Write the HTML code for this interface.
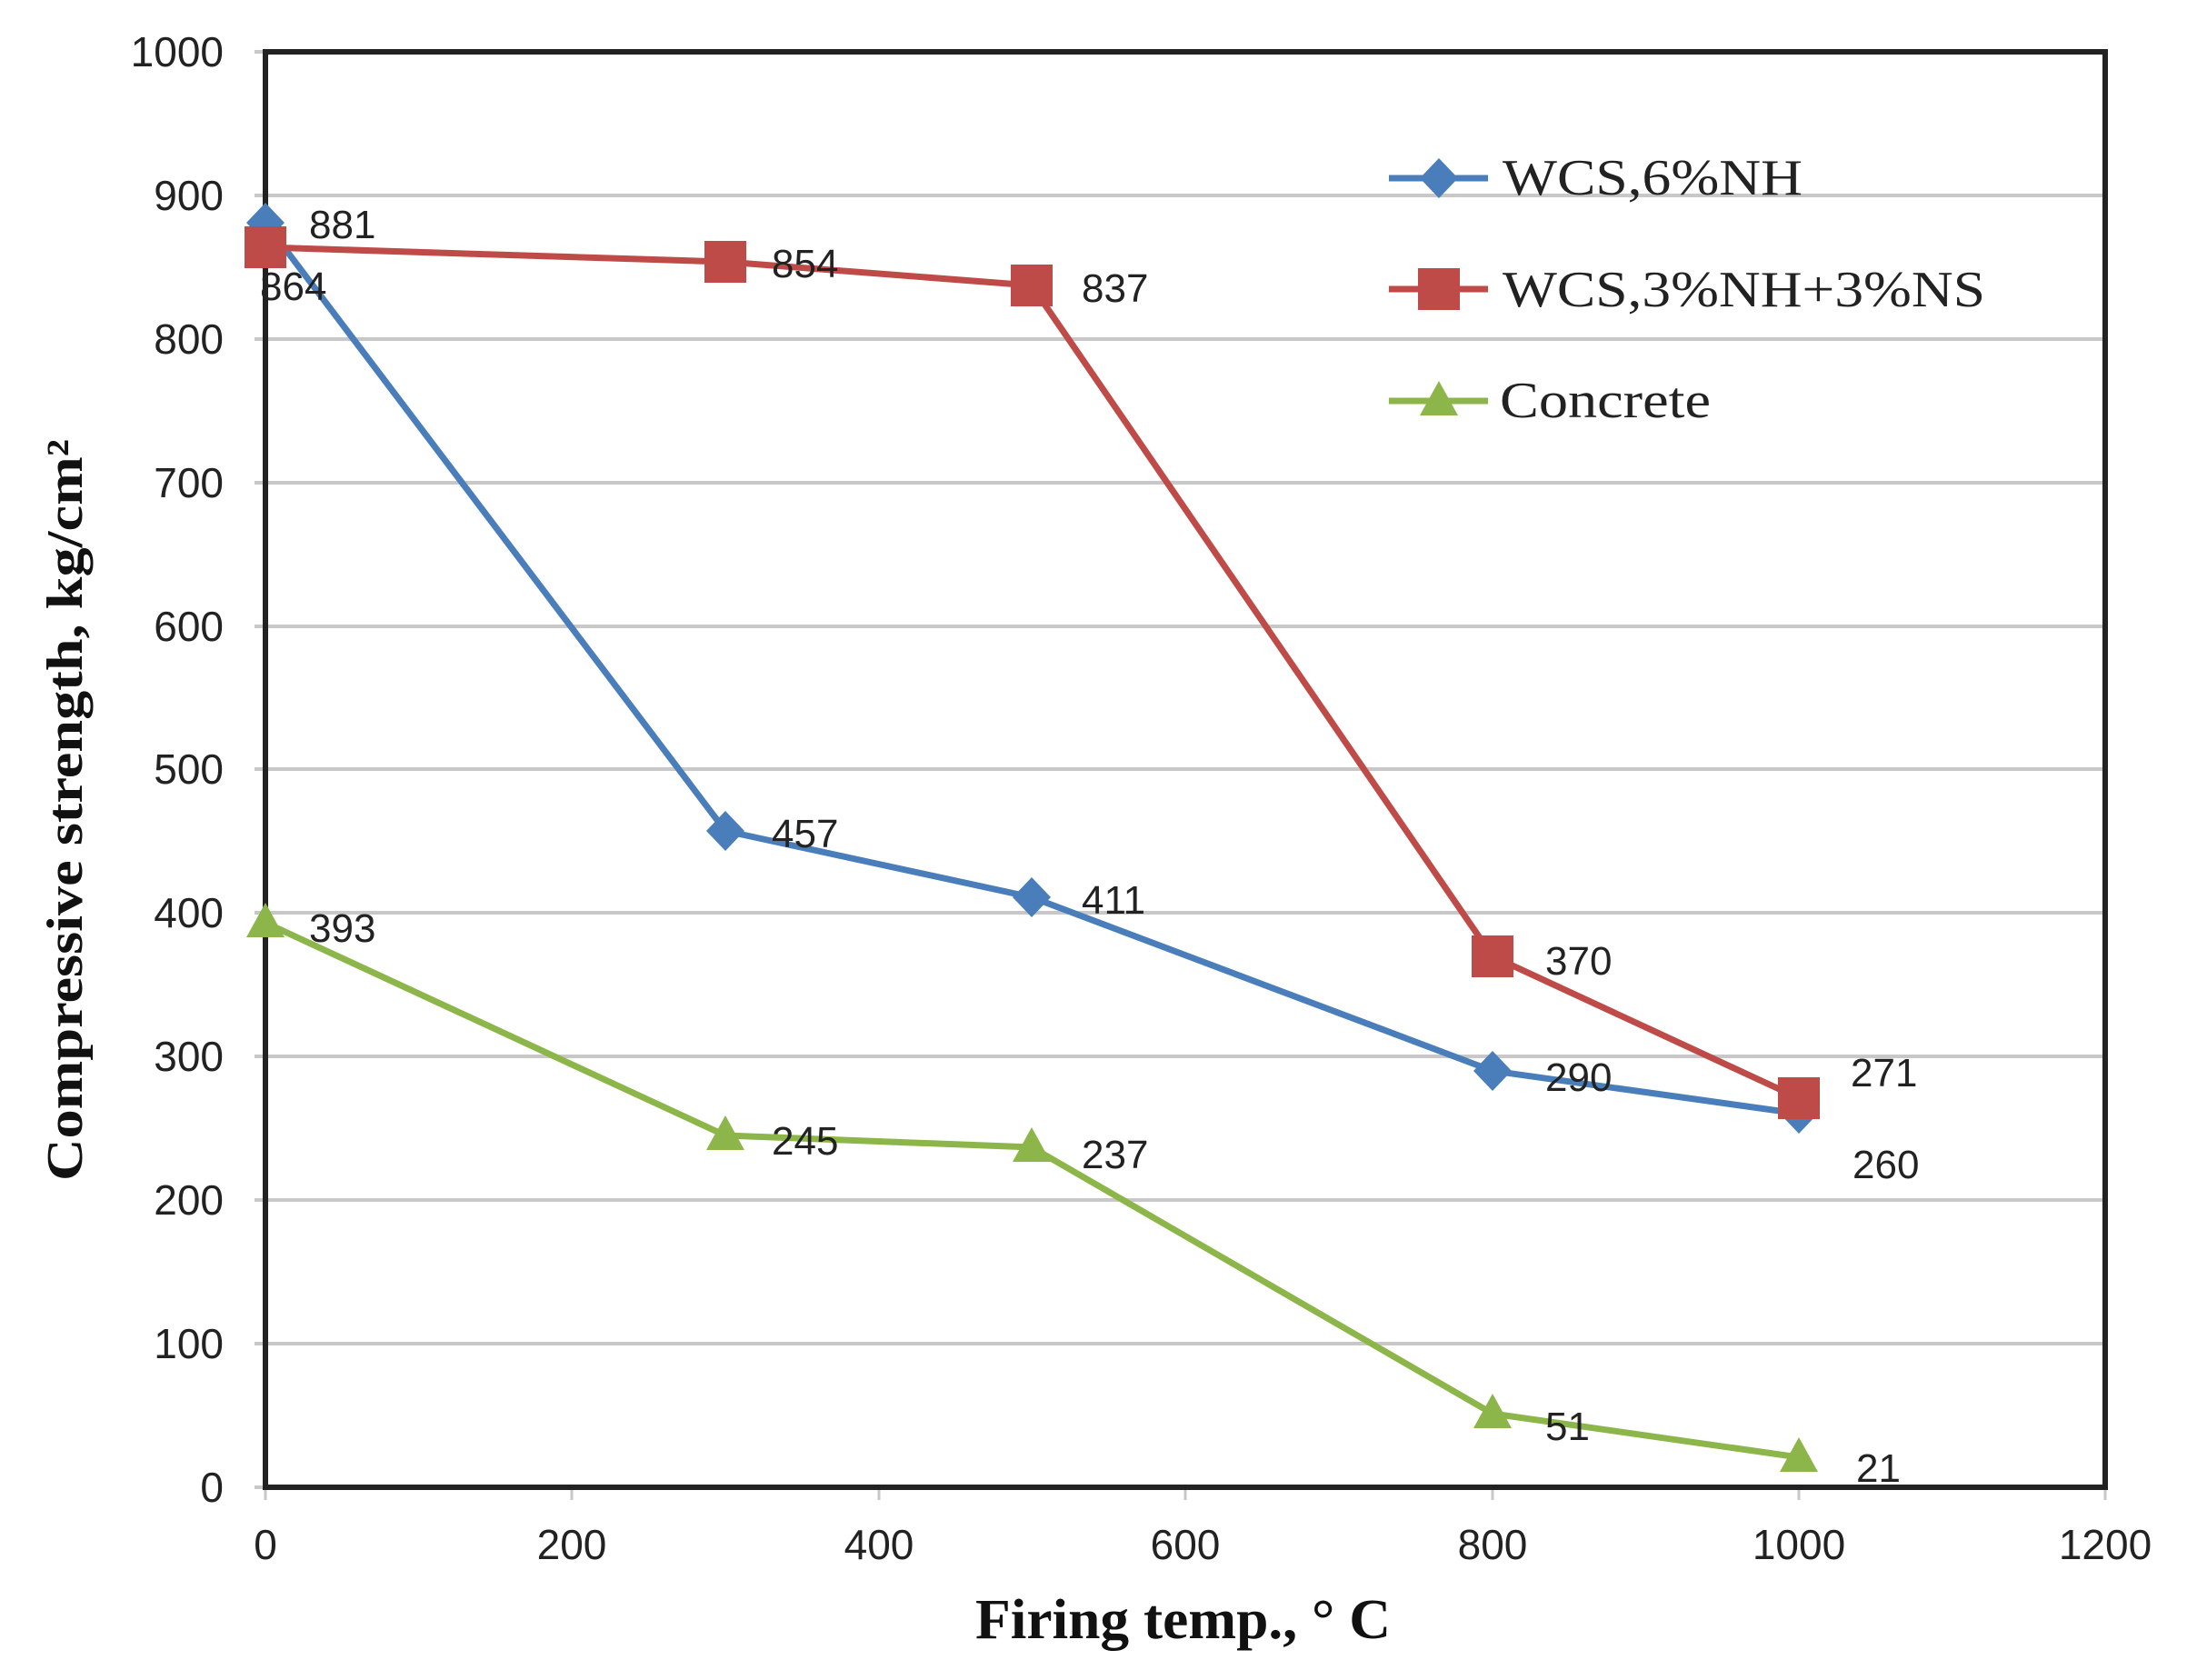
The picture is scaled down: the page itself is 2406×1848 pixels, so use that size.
<!DOCTYPE html>
<html><head><meta charset="utf-8"><style>html,body{margin:0;padding:0;background:#fff}svg{display:block}</style></head>
<body>
<svg width="2406" height="1848" viewBox="0 0 2406 1848" xmlns="http://www.w3.org/2000/svg">
<rect width="2406" height="1848" fill="#fff"/>
<defs>
<path id="dia" d="M0,-22 L21,0 L0,22 L-21,0Z"/>
<rect id="sq" x="-23" y="-23" width="46" height="46"/>
<path id="tri" d="M0,-22 L21,16 L-21,16Z"/>
</defs>
<!-- gridlines: y(v)=1636-1.579v -->
<g stroke="#c8c8c8" stroke-width="4">
<line x1="280" y1="1478" x2="2316" y2="1478"/>
<line x1="280" y1="1320" x2="2316" y2="1320"/>
<line x1="280" y1="1162" x2="2316" y2="1162"/>
<line x1="280" y1="1004" x2="2316" y2="1004"/>
<line x1="280" y1="846" x2="2316" y2="846"/>
<line x1="280" y1="689" x2="2316" y2="689"/>
<line x1="280" y1="531" x2="2316" y2="531"/>
<line x1="280" y1="373" x2="2316" y2="373"/>
<line x1="280" y1="215" x2="2316" y2="215"/>
<line x1="280" y1="57" x2="292" y2="57"/>
<line x1="280" y1="1636" x2="292" y2="1636"/>
</g>
<g stroke="#c8c8c8" stroke-width="3">
<line x1="292" y1="1636" x2="292" y2="1650"/>
<line x1="629" y1="1636" x2="629" y2="1650"/>
<line x1="967" y1="1636" x2="967" y2="1650"/>
<line x1="1304" y1="1636" x2="1304" y2="1650"/>
<line x1="1642" y1="1636" x2="1642" y2="1650"/>
<line x1="1979" y1="1636" x2="1979" y2="1650"/>
<line x1="2316" y1="1636" x2="2316" y2="1650"/>
</g>
<rect x="292" y="57" width="2024" height="1579" fill="none" stroke="#222" stroke-width="6"/>
<!-- tick labels -->
<g font-family="Liberation Sans, sans-serif" font-size="46" fill="#222" text-anchor="end">
<text x="246" y="1652">0</text>
<text x="246" y="1494">100</text>
<text x="246" y="1336">200</text>
<text x="246" y="1178">300</text>
<text x="246" y="1020">400</text>
<text x="246" y="862">500</text>
<text x="246" y="705">600</text>
<text x="246" y="547">700</text>
<text x="246" y="389">800</text>
<text x="246" y="231">900</text>
<text x="246" y="73">1000</text>
</g>
<g font-family="Liberation Sans, sans-serif" font-size="46" fill="#222" text-anchor="middle">
<text x="292" y="1715">0</text>
<text x="629" y="1715">200</text>
<text x="967" y="1715">400</text>
<text x="1304" y="1715">600</text>
<text x="1642" y="1715">800</text>
<text x="1979" y="1715">1000</text>
<text x="2316" y="1715">1200</text>
</g>
<!-- series -->
<polyline fill="none" stroke="#4a7ebb" stroke-width="7" points="292,245 798,914 1135,987 1642,1178 1979,1225"/>
<polyline fill="none" stroke="#be4b48" stroke-width="7" points="292,272 798,288 1135,314 1642,1052 1979,1208"/>
<polyline fill="none" stroke="#8db64a" stroke-width="7" points="292,1015 798,1249 1135,1262 1642,1555 1979,1603"/>
<g fill="#4a7ebb">
<use href="#dia" x="292" y="245"/><use href="#dia" x="798" y="914"/><use href="#dia" x="1135" y="987"/><use href="#dia" x="1642" y="1178"/><use href="#dia" x="1979" y="1225"/>
</g>
<g fill="#be4b48">
<use href="#sq" x="292" y="272"/><use href="#sq" x="798" y="288"/><use href="#sq" x="1135" y="314"/><use href="#sq" x="1642" y="1052"/><use href="#sq" x="1979" y="1208"/>
</g>
<g fill="#8db64a">
<use href="#tri" x="292" y="1015"/><use href="#tri" x="798" y="1249"/><use href="#tri" x="1135" y="1262"/><use href="#tri" x="1642" y="1555"/><use href="#tri" x="1979" y="1603"/>
</g>
<!-- data labels -->
<g font-family="Liberation Sans, sans-serif" font-size="44" fill="#222">
<text x="340" y="262">881</text>
<text x="286" y="330">864</text>
<text x="849" y="305">854</text>
<text x="1190" y="332">837</text>
<text x="849" y="932">457</text>
<text x="1190" y="1005">411</text>
<text x="1700" y="1072">370</text>
<text x="1700" y="1200">290</text>
<text x="2036" y="1195">271</text>
<text x="2038" y="1296">260</text>
<text x="340" y="1036">393</text>
<text x="849" y="1270">245</text>
<text x="1190" y="1285">237</text>
<text x="1700" y="1584">51</text>
<text x="2042" y="1630">21</text>
</g>
<!-- legend -->
<line x1="1528" y1="196" x2="1637" y2="196" stroke="#4a7ebb" stroke-width="7"/>
<use href="#dia" x="1583" y="196" fill="#4a7ebb"/>
<line x1="1528" y1="318" x2="1637" y2="318" stroke="#be4b48" stroke-width="7"/>
<use href="#sq" x="1583" y="318" fill="#be4b48"/>
<line x1="1528" y1="441" x2="1637" y2="441" stroke="#8db64a" stroke-width="7"/>
<use href="#tri" x="1583" y="441" fill="#8db64a"/>
<g font-family="Liberation Serif, serif" font-size="56" fill="#222">
<text x="1653" y="214" textLength="330" lengthAdjust="spacingAndGlyphs">WCS,6%NH</text>
<text x="1653" y="337" textLength="531" lengthAdjust="spacingAndGlyphs">WCS,3%NH+3%NS</text>
<text x="1650" y="459" textLength="232" lengthAdjust="spacingAndGlyphs">Concrete</text>
</g>
<!-- axis titles -->
<text x="1073" y="1802" font-family="Liberation Serif, serif" font-weight="bold" font-size="62" fill="#111" textLength="457" lengthAdjust="spacingAndGlyphs">Firing temp., ° C</text>
<text transform="translate(90,891) rotate(-90)" text-anchor="middle" font-family="Liberation Serif, serif" font-weight="bold" font-size="56" fill="#111" textLength="816" lengthAdjust="spacingAndGlyphs">Compressive strength, kg/cm²</text>
</svg>
</body></html>
